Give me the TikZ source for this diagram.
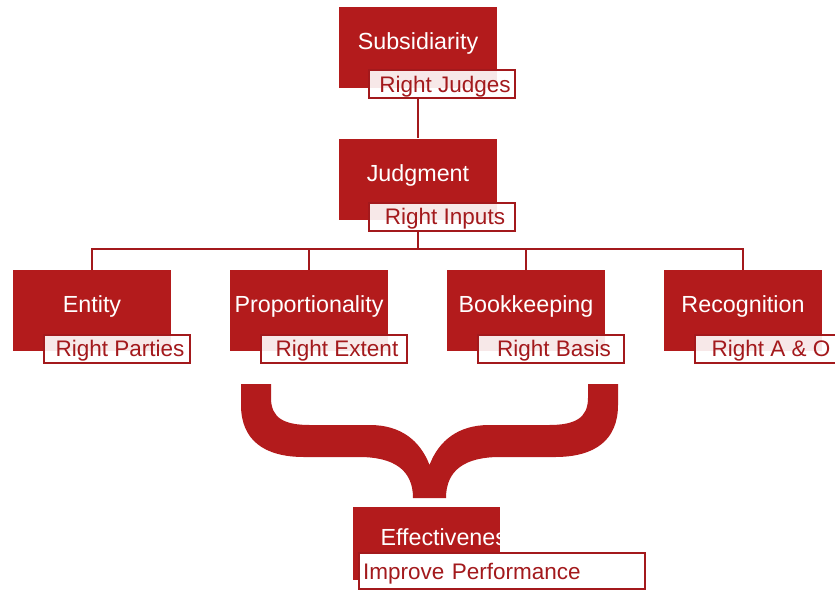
\documentclass[tikz,border=0pt]{standalone}
\usepackage{fontspec}
\setmainfont{Liberation Sans}
\usepackage{tikz}
\usetikzlibrary{positioning,calc}
\definecolor{boxred}{HTML}{B31B1C}
\definecolor{linered}{HTML}{A3191C}

\tikzset{
  mainbox/.style={fill=boxred, minimum width=158pt, minimum height=81pt, inner sep=0pt},
  maintext/.style={text=white, font=\fontsize{23.3}{27}\selectfont,
    text height=17pt, text depth=5pt, yshift=3.7pt},
  subbox/.style={draw=linered, line width=2pt, fill=white, fill opacity=0.9, text opacity=1,
    text=linered, minimum width=146pt, minimum height=28pt, inner sep=0pt,
    text height=16pt, text depth=0pt, font=\fontsize{22.5}{26}\selectfont},
  tagbox/.style={subbox, execute at begin node=\hspace*{6pt}},
  link/.style={draw=linered, line width=2pt},
  brace/.style={fill=boxred}
}

\begin{document}
\begin{tikzpicture}[x=1pt,y=-1pt]
  \useasboundingbox (0,0) rectangle (835,590);
  % top of the tree
  \node[mainbox, label={[maintext]center:Subsidiarity}] (sub) at (418,47) {};
  \node[tagbox] (sub-r) at (442,84) {Right Judges};
  \node[mainbox, label={[maintext]center:Judgment}] (jud) at (418,179) {};
  \node[tagbox] (jud-r) at (442,216.5) {Right Inputs};
  % four branches
  \node[mainbox, label={[maintext]center:Entity}] (ent) at (92,310.5) {};
  \node[tagbox] (ent-r) at (117,348.5) {Right Parties};
  \node[mainbox, label={[maintext]center:Proportionality}] (pro) at (309,310.5) {};
  \node[tagbox] (pro-r) at (334,348.5) {Right Extent};
  \node[mainbox, label={[maintext]center:Bookkeeping}] (boo) at (526,310.5) {};
  \node[tagbox] (boo-r) at (551,348.5) {Right Basis};
  \node[mainbox, label={[maintext]center:Recognition}] (rec) at (743,310.5) {};
  \node[tagbox] (rec-r) at (768,348.5) {Right A \& O};
  \coordinate (bus) at (418,249);

  \draw[link] (sub.center |- sub-r.south) -- (jud.north);
  \draw[link] (jud.center |- jud-r.south) -- (bus);
  \draw[link] (ent.north) |- (bus) -| (rec.north);
  \draw[link] (pro.north) -- (pro.north |- bus);
  \draw[link] (boo.north) -- (boo.north |- bus);

  % the brace
  \fill[brace] (241,384) -- (271,384) -- (271,398)
    .. controls (271,418) and (284,425) .. (310,425) -- (370,425)
    .. controls (400,425) and (420,440) .. (429.5,465)
    .. controls (439,440) and (459,425) .. (489,425) -- (549,425)
    .. controls (575,425) and (588,418) .. (588,398) -- (588,384) -- (618,384) -- (618,405)
    .. controls (618,440) and (595,457) .. (555,457) -- (500,457)
    .. controls (465,457) and (446,470) .. (446,498) -- (413,498)
    .. controls (413,470) and (394,457) .. (359,457) -- (304,457)
    .. controls (264,457) and (241,440) .. (241,405) -- cycle;

  % result
  \node[mainbox, minimum width=147pt, minimum height=73pt] (eff) at (426.5,543.5) {};
  \node[text=white, font=\fontsize{23.3}{27}\selectfont, anchor=base west] (eff-t) at (377,545) {Effectiveness};
  \node[subbox, fill opacity=1, minimum width=286pt, minimum height=36pt,
    text width=278pt, align=left] (eff-r) at (502,571) {Improve Performance};
\end{tikzpicture}
\end{document}
